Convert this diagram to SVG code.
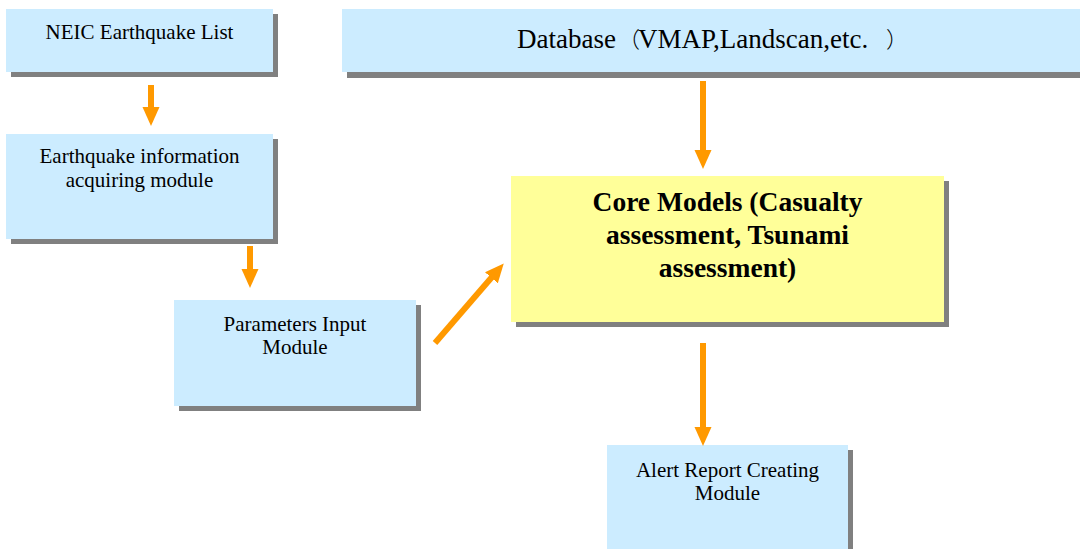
<svg xmlns="http://www.w3.org/2000/svg" width="1080" height="549" viewBox="0 0 1080 549">
  <style>
    .shadow { fill: #808080; }
    .box { fill: #CCECFF; }
    .core { fill: #FFFF99; }
    .label { font-family: "Liberation Serif", "Times New Roman", serif; font-size: 21px; fill: #000; text-anchor: middle; }
    .big { font-family: "Liberation Serif", "Noto Sans CJK SC", serif; font-size: 27px; fill: #000; }
    .paren { font-family: "Noto Sans CJK SC", serif; font-size: 22px; font-weight: 300; }
    .bold { font-family: "Liberation Serif", "Times New Roman", serif; font-size: 27.5px; font-weight: bold; fill: #000; text-anchor: middle; }
    .conn { stroke: #FF9900; stroke-width: 6; fill: none; }
  </style>
  <defs>
    <marker id="head" markerUnits="userSpaceOnUse" markerWidth="19" markerHeight="18" viewBox="0 -9 19 18" refX="1" refY="0" orient="auto">
      <path d="M0,-8.5 L19,0 L0,8.5 Z" fill="#FF9900"/>
    </marker>
  </defs>

  <rect width="1080" height="549" fill="#FFFFFF"/>

  <g id="neic-list">
    <rect class="shadow" x="11" y="14" width="267" height="63"/>
    <rect class="box" x="6" y="9" width="267" height="63"/>
    <text class="label" x="139.5" y="39">NEIC Earthquake List</text>
  </g>

  <g id="eq-info-module">
    <rect class="shadow" x="11" y="139" width="267" height="105"/>
    <rect class="box" x="6" y="134" width="267" height="105"/>
    <text class="label" x="139.5" y="163">Earthquake information</text>
    <text class="label" x="139.5" y="187">acquiring module</text>
  </g>

  <g id="params-input-module">
    <rect class="shadow" x="179" y="305" width="242" height="106"/>
    <rect class="box" x="174" y="300" width="242" height="106"/>
    <text class="label" x="295" y="331">Parameters Input</text>
    <text class="label" x="295" y="354">Module</text>
  </g>

  <g id="database">
    <rect class="shadow" x="347" y="14" width="760" height="64"/>
    <rect class="box" x="342" y="9" width="760" height="63"/>
    <text class="big" y="48"><tspan x="517">Database</tspan><tspan class="paren" x="618" y="47">（</tspan><tspan x="638" y="48">VMAP,Landscan,etc.</tspan><tspan class="paren" x="886" y="47">）</tspan></text>
  </g>

  <g id="core-models">
    <rect class="shadow" x="516" y="181" width="433" height="146"/>
    <rect class="core" x="511" y="176" width="433" height="146"/>
    <text class="bold" x="727.5" y="211">Core Models (Casualty</text>
    <text class="bold" x="727.5" y="244">assessment, Tsunami</text>
    <text class="bold" x="727.5" y="277">assessment)</text>
  </g>

  <g id="alert-report-module">
    <rect class="shadow" x="612" y="450" width="241" height="110"/>
    <rect class="box" x="607" y="445" width="241" height="110"/>
    <text class="label" x="727.5" y="477">Alert Report Creating</text>
    <text class="label" x="727.5" y="500">Module</text>
  </g>

  <g id="connectors">
    <line class="conn" x1="151" y1="85" x2="151" y2="108" marker-end="url(#head)"/>
    <line class="conn" x1="250" y1="246" x2="250" y2="270" marker-end="url(#head)"/>
    <line class="conn" x1="703" y1="81" x2="703" y2="151" marker-end="url(#head)"/>
    <line class="conn" x1="435" y1="343" x2="492" y2="277" marker-end="url(#head)"/>
    <line class="conn" x1="703" y1="343" x2="703" y2="428" marker-end="url(#head)"/>
  </g>
</svg>
